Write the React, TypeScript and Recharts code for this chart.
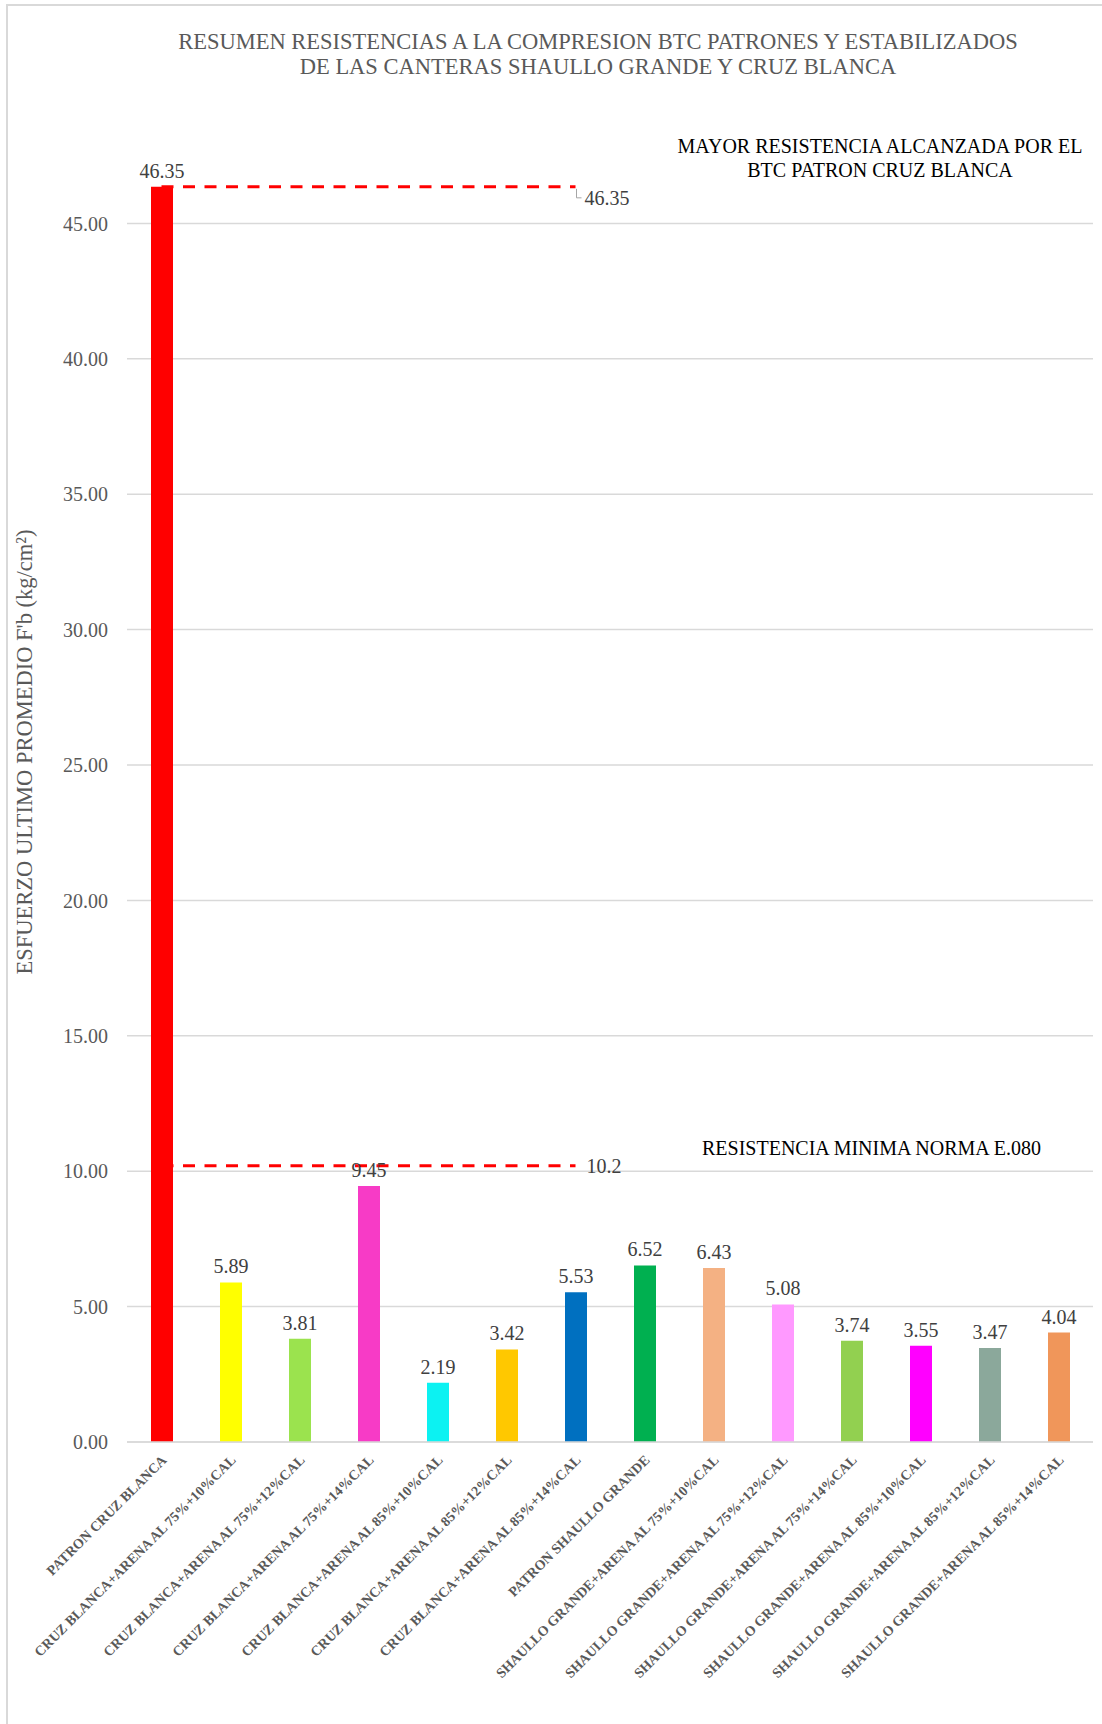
import { ComposedChart, Bar, Line, XAxis, YAxis, CartesianGrid, Cell, LabelList } from 'recharts'

const FONT = '"Liberation Serif", "Times New Roman", serif'

// Categories and measured average compressive strength (kg/cm²)
const categories = [
  'PATRON CRUZ BLANCA',
  'CRUZ BLANCA+ARENA AL 75%+10%CAL',
  'CRUZ BLANCA+ARENA AL 75%+12%CAL',
  'CRUZ BLANCA+ARENA AL 75%+14%CAL',
  'CRUZ BLANCA+ARENA AL 85%+10%CAL',
  'CRUZ BLANCA+ARENA AL 85%+12%CAL',
  'CRUZ BLANCA+ARENA AL 85%+14%CAL',
  'PATRON SHAULLO GRANDE',
  'SHAULLO GRANDE+ARENA AL 75%+10%CAL',
  'SHAULLO GRANDE+ARENA AL 75%+12%CAL',
  'SHAULLO GRANDE+ARENA AL 75%+14%CAL',
  'SHAULLO GRANDE+ARENA AL 85%+10%CAL',
  'SHAULLO GRANDE+ARENA AL 85%+12%CAL',
  'SHAULLO GRANDE+ARENA AL 85%+14%CAL',
]
const resistance = [46.35, 5.89, 3.81, 9.45, 2.19, 3.42, 5.53, 6.52, 6.43, 5.08, 3.74, 3.55, 3.47, 4.04]
const barColors = [
  '#FF0000', '#FFFF00', '#9BE34E', '#F73BC6', '#0CF2F2', '#FFC800', '#0070C0',
  '#00B050', '#F4B183', '#FF99FF', '#92D050', '#FF00FF', '#8BA89B', '#F0965A',
]
// dashed reference series (drawn over the first seven categories)
const maxReached = [46.35, 46.35, 46.35, 46.35, 46.35, 46.35, 46.35, null, null, null, null, null, null, null]
const minNorm = [10.2, 10.2, 10.2, 10.2, 10.2, 10.2, 10.2, null, null, null, null, null, null, null]
const yTicks = [0, 5, 10, 15, 20, 25, 30, 35, 40, 45]

const chartData = categories.map((name, i) => ({
  name,
  value: resistance[i],
  maxReached: maxReached[i],
  minNorm: minNorm[i],
}))

const LAST_LINE_INDEX = 6

const CategoryTick = ({ x, payload }: any) => {
  const px = x + 6
  const py = 1461
  return (
    <text
      x={px}
      y={py}
      transform={`rotate(-45, ${px}, ${py})`}
      textAnchor="end"
      fontFamily={FONT}
      fontSize={14}
      fontWeight="bold"
      fill="#595959"
    >
      {payload.value}
    </text>
  )
}

const MaxLineLabel = ({ x, y, value, index }: any) => {
  if (index !== LAST_LINE_INDEX) return null
  return (
    <g>
      <path d={`M${x + 1},${y + 2} L${x + 1},${y + 11} L${x + 6},${y + 11}`} stroke="#A6A6A6" fill="none" strokeWidth={1} />
      <text x={x + 9} y={y + 11} dy="0.35em" fontFamily={FONT} fontSize={20} fill="#404040">
        {value}
      </text>
    </g>
  )
}

const MinLineLabel = ({ x, y, value, index }: any) => {
  if (index !== LAST_LINE_INDEX) return null
  return (
    <text x={x + 11} y={y} dy="0.35em" fontFamily={FONT} fontSize={20} fill="#404040">
      {value}
    </text>
  )
}

export default function App() {
  return (
    <div style={{ position: 'absolute', left: 0, top: 0, width: 1102, height: 1724, background: '#fff', fontFamily: FONT }}>
      <div
        style={{
          position: 'absolute',
          left: 6,
          top: 4,
          width: 1096,
          height: 1720,
          borderTop: '2px solid #D9D9D9',
          borderLeft: '2px solid #D9D9D9',
        }}
      />
      <div
        style={{
          position: 'absolute',
          left: 598,
          top: 29,
          transform: 'translateX(-50%)',
          textAlign: 'center',
          whiteSpace: 'nowrap',
          fontSize: 22.5,
          lineHeight: '25px',
          color: '#595959',
        }}
      >
        RESUMEN RESISTENCIAS A LA COMPRESION BTC PATRONES Y ESTABILIZADOS
        <br />
        DE LAS CANTERAS SHAULLO GRANDE Y CRUZ BLANCA
      </div>
      <div
        style={{
          position: 'absolute',
          left: 25,
          top: 752,
          transform: 'translate(-50%, -50%) rotate(-90deg)',
          whiteSpace: 'nowrap',
          fontSize: 22.5,
          color: '#595959',
        }}
      >
        ESFUERZO ULTIMO PROMEDIO F'b (kg/cm²)
      </div>
      <div style={{ position: 'absolute', left: 0, top: 0 }}>
        <ComposedChart
          width={1102}
          height={1724}
          data={chartData}
          margin={{ top: 88, right: 9, bottom: 0, left: 0 }}
        >
          <CartesianGrid vertical={false} horizontalValues={yTicks} stroke="#D9D9D9" strokeWidth={1.5} />
          <XAxis
            dataKey="name"
            height={282}
            interval={0}
            tickLine={false}
            axisLine={{ stroke: '#D9D9D9', strokeWidth: 1.5 }}
            tick={<CategoryTick />}
          />
          <YAxis
            width={127}
            domain={[0, 50]}
            ticks={yTicks}
            axisLine={false}
            tickLine={false}
            tickSize={0}
            tickMargin={19}
            tickFormatter={(v: number) => v.toFixed(2)}
            tick={{ fontFamily: FONT, fontSize: 20, fill: '#595959' }}
          />
          <Bar dataKey="value" barSize={22} isAnimationActive={false}>
            {chartData.map((d, i) => (
              <Cell key={d.name} fill={barColors[i]} />
            ))}
            <LabelList
              dataKey="value"
              position="top"
              offset={9}
              style={{ fontFamily: FONT, fontSize: 20, fill: '#404040' }}
              formatter={(v: any) => Number(v).toFixed(2)}
            />
          </Bar>
          <Line
            type="linear"
            dataKey="maxReached"
            stroke="#FF0000"
            strokeWidth={3}
            strokeDasharray="12 9.5"
            dot={false}
            activeDot={false}
            isAnimationActive={false}
          >
            <LabelList dataKey="maxReached" content={<MaxLineLabel />} />
          </Line>
          <Line
            type="linear"
            dataKey="minNorm"
            stroke="#FF0000"
            strokeWidth={3}
            strokeDasharray="12 9.5"
            dot={false}
            activeDot={false}
            isAnimationActive={false}
          >
            <LabelList dataKey="minNorm" content={<MinLineLabel />} />
          </Line>
        </ComposedChart>
      </div>
      <div
        style={{
          position: 'absolute',
          left: 880,
          top: 134,
          transform: 'translateX(-50%)',
          textAlign: 'center',
          whiteSpace: 'nowrap',
          fontSize: 20,
          lineHeight: '24px',
          color: '#000',
        }}
      >
        MAYOR RESISTENCIA ALCANZADA POR EL
        <br />
        BTC PATRON CRUZ BLANCA
      </div>
      <div
        style={{
          position: 'absolute',
          left: 702,
          top: 1136,
          whiteSpace: 'nowrap',
          fontSize: 20,
          lineHeight: '24px',
          color: '#000',
        }}
      >
        RESISTENCIA MINIMA NORMA E.080
      </div>
    </div>
  )
}
